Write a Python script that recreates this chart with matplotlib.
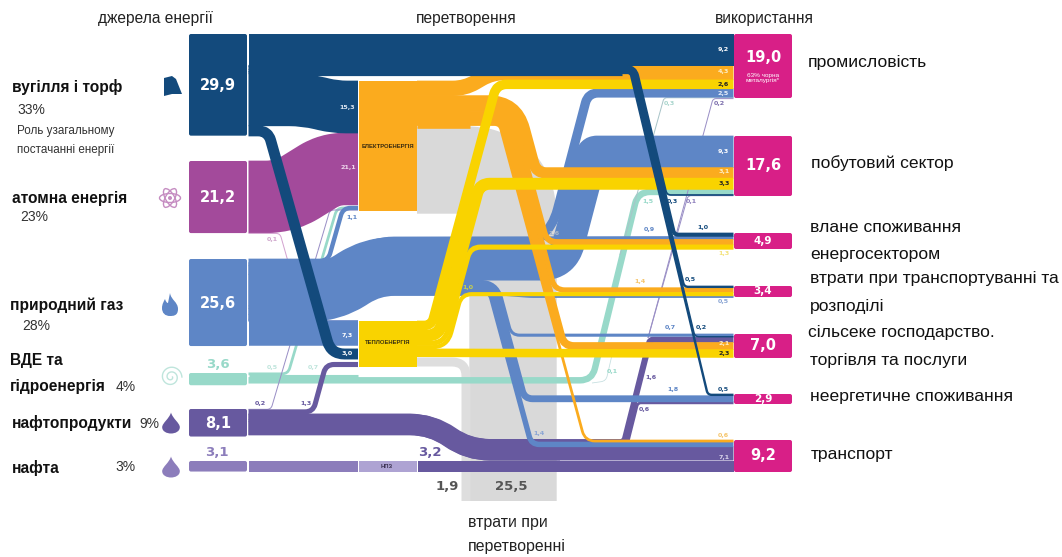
import matplotlib
matplotlib.use('Agg')
import matplotlib.pyplot as plt
from matplotlib.patches import Rectangle, FancyBboxPatch, PathPatch, Polygon, Ellipse, Circle
from matplotlib.path import Path
import numpy as np

# totals
source_totals = [29.9, 21.2, 25.6, 3.6, 8.1, 3.1]
sink_totals = ['19,0', '17,6', '4,9', '3,4', '7,0', '2,9', '9,2']

# flows out of each source
coal_vals = [9.2, 2.5, 15.3, 3.0]
coal_rest = [0.3, 1.0, 0.5, 0.2, 0.5]
nuclear_vals = [21.1, 0.1]
gas_vals = [1.1, 0.9, 2.5, 9.3, 0.7, 1.8, 1.4, 0.5, 7.3]
teal_vals = [0.5, 0.7, 1.9]
oil_vals = [0.2, 1.3, 1.6, 0.6, 3.9]

# flows out of electricity and heat
elec_vals = [4.3, 3.1, 1.6, 1.4, 2.1, 0.6]
heat_vals = [2.6, 3.3, 1.3, 1.0, 2.3]
heat_loss = 1.9
elec_loss = 25.5

# flows into each use, top to bottom
industry_vals = [9.2, 4.3, 2.6, 2.5, 0.3, 0.2]
household_vals = [9.3, 3.1, 3.3, 1.5, 0.3, 0.1]
energy_vals = [1.0, 0.9, 1.6, 1.3]
transit_vals = [0.5, 1.4, 1.0, 0.5]
trade_vals = [0.7, 0.2, 1.6, 2.1, 2.3]
nonenergy_vals = [0.5, 1.8, 0.6]
transport_vals = [0.6, 1.4, 7.1]

COAL = '#134a7c'
NUCLEAR = '#a34a9b'
GAS = '#5e86c6'
TEAL = '#98d9c9'
OIL = '#67599f'
CRUDE = '#8c7dbb'
ORANGE = '#fbab1e'
YELLOW = '#f9d300'
GREY = '#d9d9d9'
PINK = '#d81f87'

SCALE = 3.4  # px per unit
X0 = 248.5
X1 = 733.5

plt.rcParams['font.family'] = ['Liberation Sans', 'DejaVu Sans']

fig = plt.figure(figsize=(10.62, 5.57), dpi=100)
ax = fig.add_axes([0, 0, 1, 1])
ax.set_xlim(0, 1062)
ax.set_ylim(557, 0)
ax.axis('off')


def stack(top, vals):
    # centre y of each band when stacked from top
    edges = top + np.cumsum([0] + list(vals)) * SCALE
    return list((edges[:-1] + edges[1:]) / 2)


def ribbon(pts, value, color, z, r=12, width=None):
    pts = [np.array(p, dtype=float) for p in pts]
    rs = r if isinstance(r, (list, tuple)) else [r] * len(pts)
    verts = [pts[0]]
    codes = [Path.MOVETO]
    for i in range(1, len(pts) - 1):
        p, a, b = pts[i], pts[i - 1], pts[i + 1]
        la, lb = np.linalg.norm(a - p), np.linalg.norm(b - p)
        rr = min(rs[i - 1], la * 0.5, lb * 0.5)
        verts += [p + (a - p) / la * rr, p, p + (b - p) / lb * rr]
        codes += [Path.LINETO, Path.CURVE3, Path.CURVE3]
    verts.append(pts[-1])
    codes.append(Path.LINETO)
    w = value * SCALE + 0.7 if width is None else width
    ax.add_patch(PathPatch(Path(verts, codes), fc='none', ec=color, lw=w * 0.72,
                           capstyle='butt', joinstyle='round', zorder=z))


def fan(vals, flat_ys, exit_ys, x_start, x_ref, y_ref, slope, color, z, r=6, r_exit=8, down=True):
    # a bundle of strands on one slanted line, each leaving at its own row
    total = sum(vals) * SCALE
    cum = 0
    for v, fy, ey in zip(vals, flat_ys, exit_ys):
        w = v * SCALE
        off = total - cum - w / 2 if down else cum + w / 2
        cum += w
        fx = x_ref + slope * (fy - y_ref) + off
        ex = x_ref + slope * (ey - y_ref) + off
        ribbon([(x_start, fy), (fx, fy), (ex, ey), (X1, ey)], v, color, z,
               r=[r + off, r_exit])


ind_y = stack(34, industry_vals)
hou_y = stack(136, household_vals)
ene_y = stack(233, energy_vals)
tra_y = stack(286, transit_vals)
trd_y = stack(334, trade_vals)
non_y = stack(394, nonenergy_vals)
por_y = stack(440, transport_vals)

# losses
ribbon([(417, 170), (513, 170), (513, 501)], elec_loss, GREY, 1, r=75)
ribbon([(417, 362), (466, 362), (466, 501)], heat_loss, '#dedede', 1, r=14, width=9)

# renewables
t_y = stack(373, teal_vals)
ribbon([(X0, t_y[1]), (358, t_y[1])], teal_vals[1], TEAL, 2)
ribbon([(X0, t_y[0]), (288, t_y[0]), (337, 208), (358, 208)], 0.6, TEAL, 2, r=6)
ribbon([(X0, t_y[2]), (592, t_y[2]), (638, hou_y[3]), (X1, hou_y[3])], household_vals[3], TEAL, 2, r=12, width=teal_vals[2] * SCALE)
ribbon([(620, 255), (664, ind_y[4]), (X1, ind_y[4])], industry_vals[4], '#a9c4c8', 2, r=3, width=1)
ribbon([(592, 383), (606, 381), (612, 355)], 0.1, '#c5dfe0', 2, r=5, width=0.8)

# oil
o_y = stack(409, oil_vals)
SHIFT = 25.3
ribbon([(X0, o_y[0]), (271, o_y[0]), (330, 210), (358, 210)], oil_vals[0], '#9a8fc6', 3, r=4, width=1)
ribbon([(X0, o_y[1]), (313, o_y[1]), (326, 364.5), (358, 364.5)], oil_vals[1], OIL, 3, r=8)
oil_mid = (o_y[2] - oil_vals[2] * SCALE / 2 + o_y[4] + oil_vals[4] * SCALE / 2) / 2
ribbon([(X0, oil_mid), (432, oil_mid), (468, oil_mid + SHIFT), (560, oil_mid + SHIFT)],
       sum(oil_vals[2:]), OIL, 3, r=22)
ribbon([(X0, o_y[4]), (432, o_y[4]), (468, o_y[4] + SHIFT), (X1, o_y[4] + SHIFT)], oil_vals[4], OIL, 3, r=22)
xl_oil = lambda yy: 622 - 0.252 * (yy - 440)
cum = 0
for v, y, ey in zip(oil_vals[2:4], o_y[2:4], [trd_y[2], non_y[2]]):
    off = cum + v * SCALE / 2
    cum += v * SCALE
    ribbon([(X0, y), (432, y), (468, y + SHIFT), (xl_oil(y + SHIFT) + off, y + SHIFT), (xl_oil(ey) + off, ey), (X1, ey)],
           v, OIL, 3, r=[22, 22, 4, 3])
ribbon([(648, 338), (713, ind_y[5]), (X1, ind_y[5])], industry_vals[5], '#9a8fc6', 3, r=3, width=1)
ribbon([(648, 338), (688, hou_y[5]), (X1, hou_y[5])], household_vals[5], '#9a8fc6', 3, r=3, width=1)

# crude and refinery
ax.add_patch(Rectangle((X0, 461), 358 - X0 - 0.5, 10.5, fc=CRUDE, ec='none', zorder=4))
ax.add_patch(Rectangle((358.5, 461), 58, 10.5, fc='#aea3d3', ec='none', zorder=4))
ax.add_patch(Rectangle((418, 461), X1 - 418, 10.5, fc=OIL, ec='none', zorder=4))

# nuclear
n_y = stack(161, nuclear_vals)
ribbon([(X0, n_y[0]), (285, n_y[0]), (330, 169), (358, 169)], nuclear_vals[0], NUCLEAR, 4, r=32)
ribbon([(X0, n_y[1] + 0.5), (280, n_y[1] + 0.5), (305, 321), (358, 321)], 0.2, '#d3a3d0', 4, r=4, width=1)

# gas
g_y = stack(259, gas_vals)
g_t = stack(237, gas_vals[1:8])
RISE = g_y[1] - g_t[0]
ribbon([(X0, g_y[0]), (328, g_y[0]), (343, 208), (358, 208)], gas_vals[0], GAS, 5, r=8)
ribbon([(X0, g_y[8]), (358, g_y[8])], gas_vals[8], GAS, 5)


def gas_lead(y_source):
    return [(X0, y_source), (332, y_source), (372, y_source - RISE)]


trunk_y = (g_y[1] + g_y[7]) / 2
ribbon(gas_lead(trunk_y) + [(480, trunk_y - RISE)], sum(gas_vals[1:8]), GAS, 5, r=22)
ribbon(gas_lead(g_y[1]) + [(X1, ene_y[1])], gas_vals[1], GAS, 5, r=[22, 22])
xl = lambda yy: 547 - 0.263 * (yy - 233)
off25 = gas_vals[2] * SCALE / 2
off93 = gas_vals[2] * SCALE + gas_vals[3] * SCALE / 2
ribbon(gas_lead(g_y[2]) + [(xl(g_t[1]) + off25, g_t[1]), (xl(ind_y[3]) + off25, ind_y[3]), (X1, ind_y[3])],
       gas_vals[2], GAS, 5, r=[22, 22, 36, 10])
ribbon(gas_lead(g_y[3]) + [(xl(g_t[2]) + off93, g_t[2]), (xl(hou_y[0]) + off93, hou_y[0]), (X1, hou_y[0])],
       gas_vals[3], GAS, 5, r=[22, 22, 22, 4])
ribbon(gas_lead(g_y[7]) + [(500, g_t[6]), (530, tra_y[3]), (X1, tra_y[3])], gas_vals[7], GAS, 5, r=[22, 22, 4, 4])
xb = lambda yy: 490 + 0.27 * (yy - 300)
tot = sum(gas_vals[4:7]) * SCALE
cum = 0
for i, ey in zip([4, 5, 6], [trd_y[0], non_y[1], por_y[1]]):
    w = gas_vals[i] * SCALE
    off = tot - cum - w / 2
    cum += w
    ribbon(gas_lead(g_y[i]) + [(xb(g_t[i - 1]) + off, g_t[i - 1]), (xb(ey) + off, ey), (X1, ey)],
           gas_vals[i], GAS, 5, r=[22, 22, 5 + off, 8])

# electricity
e_y = stack(81, elec_vals)
ribbon([(417, e_y[0]), (465, e_y[0]), (492, ind_y[1]), (X1, ind_y[1])], elec_vals[0], ORANGE, 6, r=12)
ribbon([(417, (e_y[1] + e_y[5]) / 2), (470, (e_y[1] + e_y[5]) / 2)], sum(elec_vals[1:]), ORANGE, 6)
fan(elec_vals[1:], e_y[1:], [hou_y[1], ene_y[2], tra_y[1], trd_y[3], por_y[0]],
    417, 500, 130, 0.27, ORANGE, 6, r=4, r_exit=10, down=True)

# heat
h_y = stack(321, heat_vals)
fan(heat_vals[:4], h_y[:4], [ind_y[2], hou_y[2], ene_y[3], tra_y[2]],
    417, 442, 270, -0.27, YELLOW, 7, r=5, r_exit=10, down=False)
ribbon([(417, h_y[4]), (X1, trd_y[4])], heat_vals[4], YELLOW, 7)

# coal
c_y = stack(34, coal_vals)
ribbon([(X0, ind_y[0]), (X1, ind_y[0])], coal_vals[0], COAL, 8)
c_flat = stack(34 + coal_vals[0] * SCALE, coal_rest)
ribbon([(X0, c_flat[2]), (622, c_flat[2])], sum(coal_rest), COAL, 8)
fan(coal_rest, c_flat, [hou_y[4], ene_y[0], tra_y[0], trd_y[1], non_y[0]],
    X0, 628, 66, 0.24, COAL, 9, r=2, r_exit=4, down=True)
ribbon([(X0, c_y[2]), (305, c_y[2]), (335, 107), (358, 107)], coal_vals[2], COAL, 8, r=22)
ribbon([(X0, c_y[3]), (268, c_y[3]), (331, 354), (358, 354)], coal_vals[3], COAL, 9, r=14)

# conversion blocks
ax.add_patch(Rectangle((358.5, 81), 58.5, 130, fc=ORANGE, ec='none', zorder=10))
ax.add_patch(Rectangle((358.5, 321), 58.5, 45.5, fc=YELLOW, ec='none', zorder=10))

# source and use nodes
src_colors = [COAL, NUCLEAR, GAS, TEAL, OIL, CRUDE]
src_tops = [34, 161, 259, 373, 409, 461]
for v, c, top in zip(source_totals, src_colors, src_tops):
    ax.add_patch(FancyBboxPatch((189, top), 58, v * SCALE, boxstyle='round,pad=0,rounding_size=2',
                                fc=c, ec='none', zorder=10))
snk_tops = [34, 136, 233, 286, 334, 394, 440]
snk_bottoms = [98, 196, 249, 297, 358, 404, 472]
for top, bot, t in zip(snk_tops, snk_bottoms, sink_totals):
    ax.add_patch(FancyBboxPatch((734, top), 58, bot - top, boxstyle='round,pad=0,rounding_size=2',
                                fc=PINK, ec='none', zorder=10))
    big = bot - top > 20
    cy = (top + bot) / 2 - (9 if t == '19,0' else 0)
    ax.text(763, cy, t, color='white', fontfamily='DejaVu Sans', fontweight='bold',
            fontsize=10.5 if big else 7.5, ha='center', va='center', zorder=20)
ax.text(763, 78, '63% чорна\nметалургія*', color='white', fontsize=4.6, ha='center', va='center',
        linespacing=1.0, zorder=20)

# big values on the left
for s, y in zip(['29,9', '21,2', '25,6', '8,1'], [86, 198, 304, 423]):
    ax.text(218, y, s, color='white', fontfamily='DejaVu Sans', fontweight='bold', fontsize=10.5,
            ha='center', va='center', zorder=20)
big_labels = [('3,6', 218, 364, TEAL), ('3,1', 217, 453, CRUDE), ('3,2', 430, 452, OIL),
              ('1,9', 447, 486, '#555555'), ('25,5', 511, 486, '#555555')]
for s, x, y, c in big_labels:
    ax.text(x, y, s, color=c, fontfamily='DejaVu Sans', fontweight='bold', fontsize=9.5,
            ha='center', va='center', zorder=20)

# small flow labels
small_labels = [
    ('9,2', 723, 49, 'white'), ('4,3', 723, 72, '#fdeec8'), ('2,6', 723, 84.5, '#222222'), ('2,5', 723, 93, '#e6eefa'),
    ('0,3', 669, 104, '#a9d5cd'), ('0,2', 719, 104, '#7d70ad'), ('9,3', 723, 152, 'white'), ('3,1', 724, 172, '#fdeec8'),
    ('3,3', 724, 184, '#222222'), ('1,5', 648, 201, TEAL), ('0,3', 672, 201, COAL), ('0,1', 691, 201, '#8c7dbb'),
    ('0,9', 649, 230, GAS), ('1,0', 703, 228, COAL), ('1,3', 724, 254, '#f3e27a'), ('1,6', 554, 234, '#a9b7c9'),
    ('1,4', 640, 282, '#f5c56b'), ('0,5', 690, 280, COAL), ('1,0', 468, 287, '#c9d04a'), ('0,5', 723, 302, '#8aa5d4'),
    ('0,7', 670, 328, GAS), ('0,2', 701, 328, COAL), ('2,1', 724, 344, '#fdeec8'), ('2,3', 724, 354, '#222222'),
    ('0,1', 612, 371, TEAL), ('1,6', 651, 377, OIL), ('1,8', 673, 389, GAS), ('0,5', 723, 389, COAL),
    ('0,6', 644, 409, OIL), ('1,4', 539, 433, '#8aa5d4'), ('0,6', 723, 435, '#f5c56b'), ('7,1', 724, 458, '#d9d4ea'),
    ('15,3', 347, 108, '#dce6f2'), ('21,1', 348, 168, '#eed6ec'), ('1,1', 352, 217, GAS), ('0,1', 272, 240, '#cfa6cc'),
    ('0,5', 272, 367, '#bfe5dc'), ('0,7', 313, 367, '#bfe5dc'), ('7,3', 347, 335, 'white'), ('3,0', 347, 354, 'white'),
    ('0,2', 260, 404, OIL), ('1,3', 306, 404, OIL),
]
for s, x, y, c in small_labels:
    ax.text(x, y, s, color=c, fontfamily='DejaVu Sans', fontweight='bold', fontsize=4.6,
            ha='center', va='center', zorder=20)

ax.text(388, 146, 'ЕЛЕКТРОЕНЕРГІЯ', color='#3a2c10', fontweight='bold', fontsize=4.2, ha='center', va='center', zorder=20)
ax.text(388, 343, 'ТЕПЛОЕНЕРГІЯ', color='#3a3210', fontweight='bold', fontsize=4.2, ha='center', va='center', zorder=20)
ax.text(387, 467, 'НПЗ', color='#3a3050', fontweight='bold', fontsize=4.2, ha='center', va='center', zorder=20)

# headers
for s, x, y in [('джерела енергії', 155, 18), ('перетворення', 466, 19), ('використання', 764, 18)]:
    ax.text(x, y, s, color='#222222', fontsize=11.2, ha='center', va='center')
ax.text(468, 522, 'втрати при', color='#222222', fontsize=11.4, va='center')
ax.text(468, 547, 'перетворенні', color='#222222', fontsize=11.4, va='center')

# left labels
for s, x, y in [('вугілля і торф', 12, 87), ('атомна енергія', 12, 198), ('природний газ', 10, 305),
                ('ВДЕ та', 10, 361), ('гідроенергія', 10, 387), ('нафтопродукти', 12, 423), ('нафта', 12, 468)]:
    ax.text(x, y, s, color='#111111', fontweight='bold', fontsize=11.2, va='center')
for s, x, y in [('33%', 17, 110), ('23%', 20, 217), ('28%', 22, 326), ('4%', 116, 387), ('9%', 139, 424), ('3%', 115, 467)]:
    ax.text(x, y, s, color='#333333', fontsize=10, va='center')
ax.text(17, 131, 'Роль узагальному', color='#333333', fontsize=8.4, va='center')
ax.text(17, 150, 'постачанні енергії', color='#333333', fontsize=8.4, va='center')

# right labels
right_labels = [('промисловість', 808, 63), ('побутовий сектор', 811, 163), ('влане споживання', 810, 227),
                ('енергосектором', 810, 254), ('втрати при транспортуванні та', 810, 279), ('розподілі', 810, 307),
                ('сільсеке господарство.', 808, 332), ('торгівля та послуги', 810, 360),
                ('неергетичне споживання', 810, 397), ('транспорт', 811, 455)]
for s, x, y in right_labels:
    ax.text(x, y, s, color='#111111', fontsize=12.6, va='center')


# icons
def drop(cx, cy, h, color):
    w = h * 0.42
    verts = [(cx, cy - h / 2), (cx + w * 0.2, cy - h * 0.2), (cx + w, cy), (cx + w, cy + h * 0.2),
             (cx + w, cy + h * 0.4), (cx + w * 0.5, cy + h * 0.5), (cx, cy + h * 0.5),
             (cx - w * 0.5, cy + h * 0.5), (cx - w, cy + h * 0.4), (cx - w, cy + h * 0.2),
             (cx - w, cy), (cx - w * 0.2, cy - h * 0.2), (cx, cy - h / 2)]
    ax.add_patch(PathPatch(Path(verts, [Path.MOVETO] + [Path.CURVE4] * 12), fc=color, ec='none'))


ax.add_patch(Polygon([(164, 78), (172, 76), (176, 79), (182, 94), (172, 94), (164, 96)], fc=COAL, ec='none'))
for ang in [0, 60, 120]:
    ax.add_patch(Ellipse((170, 198), 21, 9, angle=ang, fc='none', ec='#c58cc1', lw=1))
ax.add_patch(Circle((170, 198), 2, fc='#c58cc1', ec='none'))
ax.add_patch(PathPatch(Path([(170, 293), (171, 300), (178, 302), (178, 309), (178, 316), (173, 316), (170, 316),
                             (165, 316), (162, 313), (162, 308), (162, 304), (164, 301), (165, 299), (166, 302), (167, 303),
                             (168, 303)],
                            [Path.MOVETO] + [Path.CURVE4] * 15), fc=GAS, ec='none'))
th = np.linspace(0, 4 * np.pi, 80)
rad = 1.5 + th * 0.75
ax.plot(171 + rad * np.cos(th), 377 + rad * np.sin(th), color='#bfe5dc', lw=1)
drop(171, 423, 21, OIL)
drop(171, 467, 21, CRUDE)

fig.savefig('out.png', dpi=100)
